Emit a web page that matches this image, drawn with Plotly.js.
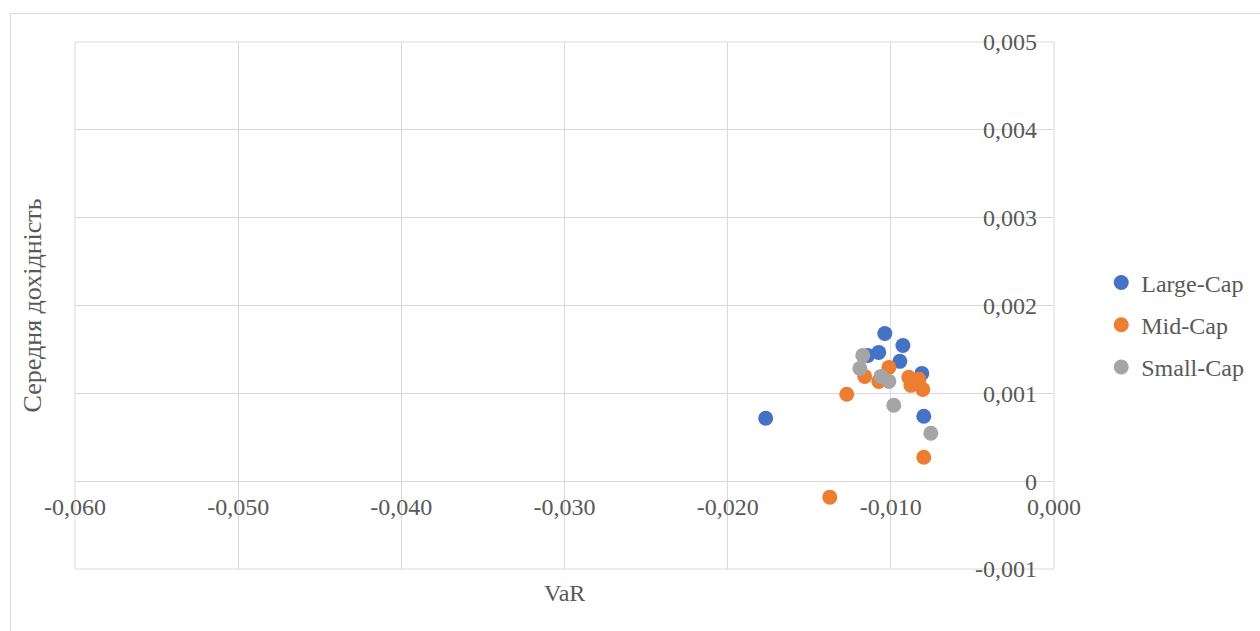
<!DOCTYPE html>
<html>
<head>
<meta charset="utf-8">
<script src="https://cdn.plot.ly/plotly-3.0.1.min.js"></script>
<style>
  html, body { margin: 0; padding: 0; background: #ffffff; }
  #wrap { position: relative; width: 1260px; height: 631px; overflow: hidden; }
  #chart { position: absolute; left: 0; top: 0; width: 1260px; height: 631px; }
  #frame { position: absolute; left: 10px; top: 13px; width: 1300px; height: 700px;
           border: 1px solid #d9d9d9; pointer-events: none; }
</style>
</head>
<body>
<div id="wrap">
  <div id="chart"></div>
  <div id="frame"></div>
</div>
<script>
// VaR vs. mean return by capitalisation group
const largeX = [-0.01767, -0.01037, -0.00926, -0.01074, -0.01141, -0.00945, -0.00810, -0.00798];
const largeY = [0.000716, 0.001682, 0.001545, 0.001466, 0.001432, 0.001364, 0.001227, 0.000739];

const midX = [-0.01270, -0.01374, -0.00798, -0.01160, -0.01012, -0.01074, -0.00890, -0.00859, -0.00828, -0.00804, -0.00877];
const midY = [0.000989, -0.000182, 0.000273, 0.001193, 0.001295, 0.001136, 0.001182, 0.001125, 0.001159, 0.001045, 0.001091];

const smallX = [-0.01172, -0.01190, -0.01061, -0.01012, -0.00982, -0.00755];
const smallY = [0.001432, 0.001284, 0.001193, 0.001136, 0.000864, 0.000545];

const seriesNames = ['Large-Cap', 'Mid-Cap', 'Small-Cap'];
const seriesColors = ['#4472C4', '#ED7D31', '#A5A5A5'];

const xTickVals = [-0.06, -0.05, -0.04, -0.03, -0.02, -0.01, 0];
const xTickText = ['-0,060', '-0,050', '-0,040', '-0,030', '-0,020', '-0,010', '0,000'];
const yTickVals = [-0.001, 0, 0.001, 0.002, 0.003, 0.004, 0.005];
const yTickText = ['-0,001', '0', '0,001', '0,002', '0,003', '0,004', '0,005'];

const xTitle = 'VaR';
const yTitle = 'Середня дохідність';

const FONT = 'Liberation Serif, Times New Roman, serif';
const FS = 24;
const TXT = '#595959';
const GRID = '#d9d9d9';

const xs = [largeX, midX, smallX];
const ys = [largeY, midY, smallY];

const traces = seriesNames.map((name, i) => ({
  type: 'scatter',
  mode: 'markers',
  name: name,
  legendgroup: name,
  x: xs[i],
  y: ys[i],
  marker: { color: seriesColors[i], size: 15, line: { width: 0 } }
}));

const yMin = -0.001, yMax = 0.005;

const layout = {
  width: 1260,
  height: 631,
  margin: { l: 75, r: 206, t: 42, b: 62, autoexpand: false },
  paper_bgcolor: 'rgba(0,0,0,0)',
  plot_bgcolor: '#ffffff',
  font: { family: FONT, size: FS, color: TXT },
  showlegend: true,
  legend: {
    xref: 'container', yref: 'container',
    x: 0.874, y: 0.485, xanchor: 'left', yanchor: 'middle',
    font: { family: FONT, size: FS, color: TXT },
    tracegroupgap: 8,
    bgcolor: 'rgba(0,0,0,0)'
  },
  xaxis: {
    range: [-0.06, 0],
    tickvals: xTickVals,
    ticktext: xTickText,
    showgrid: true,
    gridcolor: GRID,
    gridwidth: 1,
    zeroline: false,
    showline: false,
    ticks: '',
    anchor: 'free',
    position: (0 - yMin) / (yMax - yMin),
    ticklabelstandoff: 9,
    tickfont: { family: FONT, size: FS, color: TXT }
  },
  // value axis sits at VaR = 0 (right edge), labels on its left
  yaxis: {
    range: [yMin, yMax],
    tickvals: yTickVals,
    ticktext: yTickText,
    side: 'left',
    anchor: 'free',
    position: 1,
    ticklabelstandoff: 17,
    showgrid: true,
    gridcolor: GRID,
    gridwidth: 1,
    zeroline: true,
    zerolinecolor: GRID,
    zerolinewidth: 1,
    showline: false,
    ticks: '',
    tickfont: { family: FONT, size: FS, color: TXT }
  },
  shapes: [{
    type: 'rect', xref: 'paper', yref: 'paper', x0: 0, x1: 1, y0: 0, y1: 1,
    line: { color: GRID, width: 1 }, fillcolor: 'rgba(0,0,0,0)', layer: 'below'
  }],
  annotations: [
    { text: xTitle, xref: 'paper', yref: 'paper', x: 0.5, y: -0.018, xanchor: 'center', yanchor: 'top',
      showarrow: false, font: { family: FONT, size: FS, color: TXT } },
    { text: yTitle, xref: 'paper', yref: 'paper', x: -0.043, y: 0.5, xanchor: 'center', yanchor: 'middle',
      textangle: -90, showarrow: false, font: { family: FONT, size: 26, color: TXT } }
  ]
};

Plotly.newPlot('chart', traces, layout, { displayModeBar: false, staticPlot: true });
</script>
</body>
</html>
